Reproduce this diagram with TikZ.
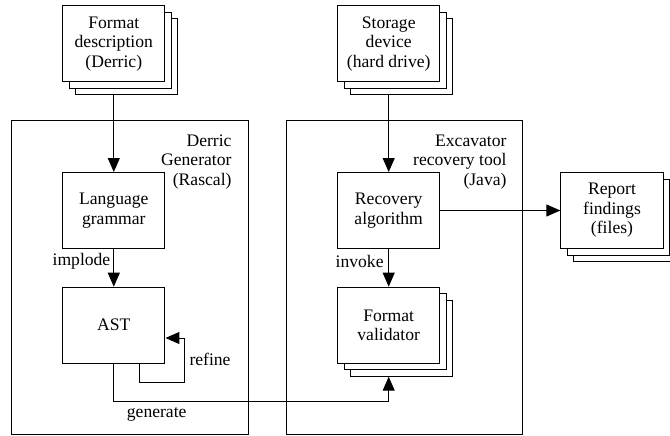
\documentclass[tikz,border=0pt]{standalone}
\usepackage{fontspec}
\setmainfont{Liberation Serif}
\usetikzlibrary{arrows.meta}
\begin{document}
\begin{tikzpicture}[x=1pt,y=-1pt,
  every node/.style={font=\fontsize{17.6}{19.5}\selectfont},
  box/.style={draw, line width=1pt, fill=white, inner sep=0pt, minimum width=102.3pt, minimum height=76pt, align=center},
  frame/.style={draw, line width=1pt},
  arr/.style={line width=1pt, -{Triangle[length=14pt,width=12pt]}},
  lbl/.style={inner sep=0pt, align=right}]
\useasboundingbox (0,0) rectangle (670,436);
\clip (0,0) rectangle (670,436);
% frames
\draw[frame] (11.7,120.7) rectangle (248.3,434.7);
\draw[frame] (286.7,120.7) rectangle (522.7,434.2);
\node[lbl, anchor=north east] (dgt) at (231.7,134.5) {Derric\\Generator\\(Rascal)};
\node[lbl, anchor=north east] (ext) at (506.7,134.5) {Excavator\\recovery tool\\(Java)};
% stacked boxes
\node[box] (fmt3) at (126.8,56.9) {};
\node[box] (fmt2) at (120.3,50.4) {};
\node[box] (fmt) at (113.8,43.9) {Format\\description\\(Derric)};
\node[box] (sto3) at (401.7,56.9) {};
\node[box] (sto2) at (395.2,50.4) {};
\node[box] (sto) at (388.7,43.9) {Storage\\device\\(hard drive)};
\node[box] (val3) at (401.7,338.2) {};
\node[box] (val2) at (395.2,331.7) {};
\node[box] (val) at (388.7,325.2) {Format\\validator};
\node[box] (rep3) at (625,223.5) {};
\node[box] (rep2) at (618.5,217) {};
\node[box] (rep) at (612,210.5) {Report\\findings\\(files)};
% single boxes
\node[box] (lang) at (113.8,210.5) {Language\\grammar};
\node[box] (ast) at (113.8,325.2) {AST};
\node[box] (rec) at (388.7,210.5) {Recovery\\algorithm};
% connectors
\draw[arr] (fmt.south |- fmt3.south) -- (lang.north);
\draw[arr] (sto.south |- sto3.south) -- (rec.north);
\draw[arr] (lang.south) -- (ast.north);
\draw[arr] (rec.south) -- (val.north);
\draw[arr] (rec.east) -- (rep.west);
\coordinate (rf1) at (139.3,382.3);
\coordinate (rf2) at (184,382.3);
\draw[arr] (rf1 |- ast.south) -- (rf1) -- (rf2) |- ([yshift=-12.8pt]ast.east);
\coordinate (gen) at (0,401.3);
\draw[arr] (ast.south) -- (ast.south |- gen) -| (val.south |- val3.south);
% labels
\node[lbl, anchor=east] (limp) at (110.5,261.3) {implode};
\node[lbl, anchor=east] (linv) at (383.8,261.3) {invoke};
\node[lbl, anchor=west] (lref) at (189.3,359.7) {refine};
\node[lbl] (lgen) at (156.7,414.7) {generate};
\end{tikzpicture}
\end{document}
